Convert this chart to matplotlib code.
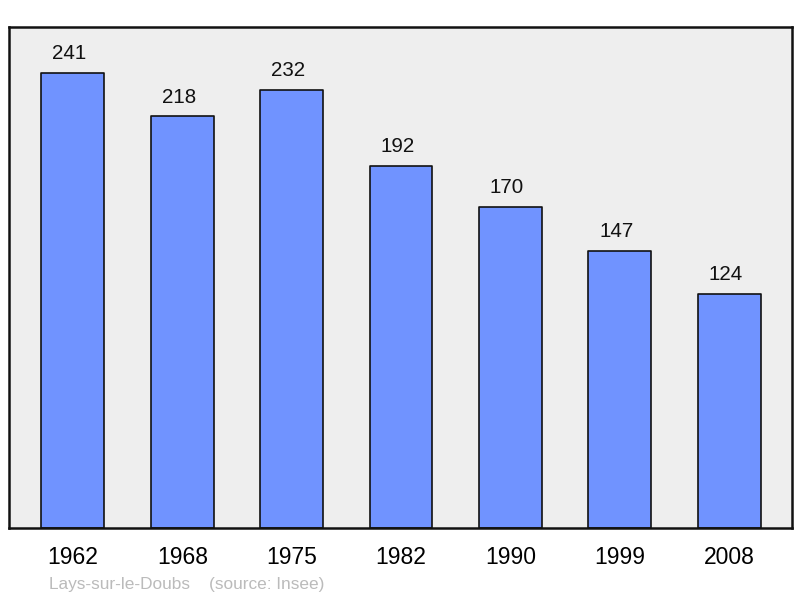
import matplotlib
matplotlib.use("Agg")
import matplotlib.pyplot as plt

plt.rcParams["font.family"] = ["Liberation Sans", "DejaVu Sans"]

years = ["1962", "1968", "1975", "1982", "1990", "1999", "2008"]
population = [241, 218, 232, 192, 170, 147, 124]

fig = plt.figure(figsize=(8, 5.98), dpi=100)
ax = fig.add_axes([9 / 800, 70 / 598, 783 / 800, 501 / 598])
ax.set_facecolor("#eeeeee")

x = list(range(len(years)))
bars = ax.bar(x, population, width=0.576, color="#7093ff",
              edgecolor="#111111", linewidth=1.2, zorder=2)
for b in bars:
    b.set_joinstyle("round")

for xi, v in zip(x, population):
    ax.annotate(str(v), (xi, v), xytext=(-2.5, 7), textcoords="offset points",
                ha="center", va="bottom", fontsize=14.8, color="#111111")

ax.set_xlim(-0.585, len(years) - 1 + 0.576)
ax.set_ylim(0, 265.4)
ax.set_xticks(x)
ax.set_xticklabels(years, fontsize=16.5)
ax.tick_params(axis="x", length=0, pad=13)
ax.set_yticks([])
for s in ax.spines.values():
    s.set_linewidth(1.8)
    s.set_color("#111111")

fig.text(49 / 800, 1 - 584 / 598, "Lays-sur-le-Doubs    (source: Insee)",
         fontsize=12.4, color="#bbbbbb", ha="left", va="center")

fig.savefig("out.png", dpi=100)
